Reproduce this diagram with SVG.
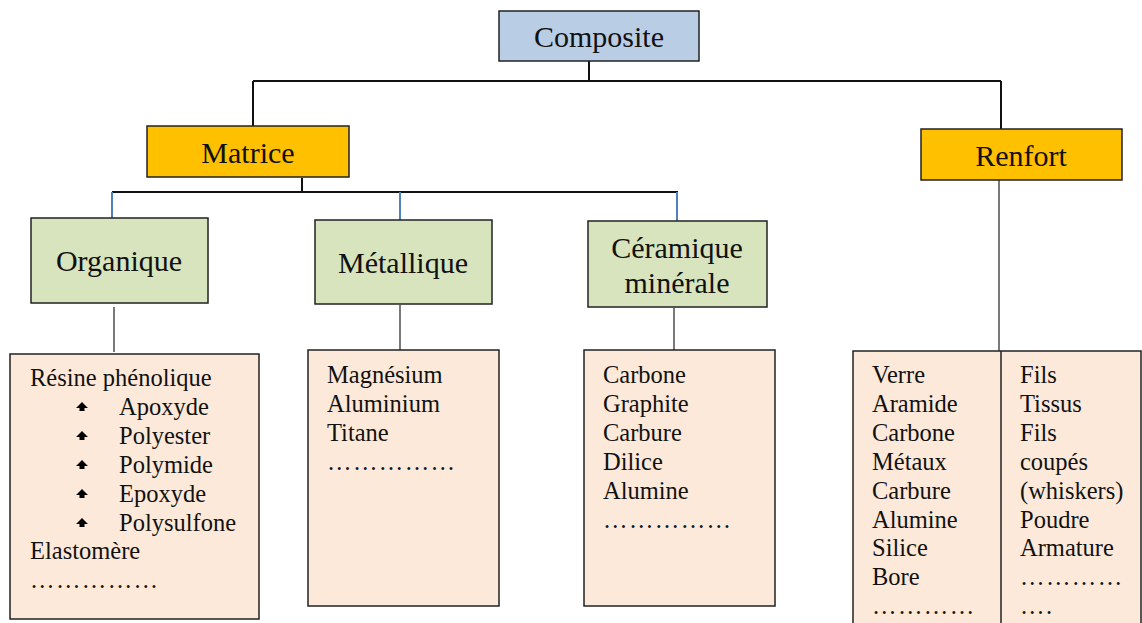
<svg xmlns="http://www.w3.org/2000/svg" width="1142" height="623" viewBox="0 0 1142 623">
<style>
.box{stroke:#222;stroke-width:1.5}
.blue{fill:#B9CDE5}
.gold{fill:#FFC000}
.green{fill:#D7E4BD}
.list{fill:#FDE9D9}
.h{font-family:"Liberation Serif","Times New Roman",serif;font-size:30px;fill:#111;text-anchor:middle}
.t{font-family:"Liberation Serif","Times New Roman",serif;font-size:24.5px;fill:#111}
.d{letter-spacing:1.4px}
.c{stroke:#111;stroke-width:2;fill:none}
.cb{stroke:#4F81BD;stroke-width:2;fill:none}
.cg{stroke:#333;stroke-width:1.3;fill:none}
</style>
<defs>
<path id="bul" d="M0,-6 L6,0 L2.5,0 L2.5,3 L-2.5,3 L-2.5,0 L-6,0 Z" fill="#000"/>
</defs>
<g id="connectors">
<path class="c" d="M589,61 V81 M253,81 H1001 M253,81 V126 M1001,81 V129"/>
<path class="c" d="M302,178 V192 M112,192 H678"/>
<path class="cb" d="M112,192 V218 M400,192 V220 M677,192 V221"/>
<path class="cg" d="M114,307 V352 M400,305 V350 M674,308 V352 M999,180 V358"/>
</g>
<g id="composite">
<rect class="box blue" x="499" y="11" width="200" height="50"/>
<text class="h" x="599" y="47">Composite</text>
</g>
<g id="matrice">
<rect class="box gold" x="147" y="126" width="202" height="51"/>
<text class="h" x="248" y="163">Matrice</text>
</g>
<g id="renfort">
<rect class="box gold" x="921" y="129" width="201" height="51"/>
<text class="h" x="1021" y="166">Renfort</text>
</g>
<g id="organique">
<rect class="box green" x="31" y="218" width="177" height="85"/>
<text class="h" x="119" y="271">Organique</text>
</g>
<g id="metallique">
<rect class="box green" x="315" y="220" width="177" height="84"/>
<text class="h" x="403" y="273">Métallique</text>
</g>
<g id="ceramique">
<rect class="box green" x="588" y="221" width="179" height="86"/>
<text class="h" x="677" y="258">Céramique</text>
<text class="h" x="677" y="293">minérale</text>
</g>
<g id="organique-list">
<rect class="box list" x="10" y="354" width="249" height="265"/>
<text class="t" x="30" y="386">Résine phénolique</text>
<use href="#bul" x="82" y="408"/>
<use href="#bul" x="82" y="437"/>
<use href="#bul" x="82" y="466"/>
<use href="#bul" x="82" y="495"/>
<use href="#bul" x="82" y="524"/>
<text class="t" x="119" y="415">Apoxyde</text>
<text class="t" x="119" y="444">Polyester</text>
<text class="t" x="119" y="473">Polymide</text>
<text class="t" x="119" y="502">Epoxyde</text>
<text class="t" x="119" y="531">Polysulfone</text>
<text class="t" x="30" y="559">Elastomère</text>
<text class="t d" x="30" y="588">……………</text>
</g>
<g id="metallique-list">
<rect class="box list" x="308" y="350" width="191" height="256"/>
<text class="t" x="327" y="383">Magnésium</text>
<text class="t" x="327" y="412">Aluminium</text>
<text class="t" x="327" y="441">Titane</text>
<text class="t d" x="327" y="470">……………</text>
</g>
<g id="ceramique-list">
<rect class="box list" x="584" y="350" width="191" height="256"/>
<text class="t" x="603" y="383">Carbone</text>
<text class="t" x="603" y="412">Graphite</text>
<text class="t" x="603" y="441">Carbure</text>
<text class="t" x="603" y="470">Dilice</text>
<text class="t" x="603" y="499">Alumine</text>
<text class="t d" x="603" y="528">……………</text>
</g>
<g id="renfort-list">
<rect class="box list" x="853" y="351" width="288" height="280"/>
<line x1="1001" y1="351" x2="1001" y2="623" stroke="#222" stroke-width="1.5"/>
<text class="t" x="872" y="383">Verre</text>
<text class="t" x="872" y="412">Aramide</text>
<text class="t" x="872" y="441">Carbone</text>
<text class="t" x="872" y="470">Métaux</text>
<text class="t" x="872" y="499">Carbure</text>
<text class="t" x="872" y="528">Alumine</text>
<text class="t" x="872" y="556">Silice</text>
<text class="t" x="872" y="585">Bore</text>
<text class="t d" x="872" y="614">…………</text>
<text class="t" x="1020" y="383">Fils</text>
<text class="t" x="1020" y="412">Tissus</text>
<text class="t" x="1020" y="441">Fils</text>
<text class="t" x="1020" y="470">coupés</text>
<text class="t" x="1020" y="499">(whiskers)</text>
<text class="t" x="1020" y="528">Poudre</text>
<text class="t" x="1020" y="556">Armature</text>
<text class="t d" x="1020" y="585">…………</text>
<text class="t d" x="1020" y="614">….</text>
</g>
</svg>
